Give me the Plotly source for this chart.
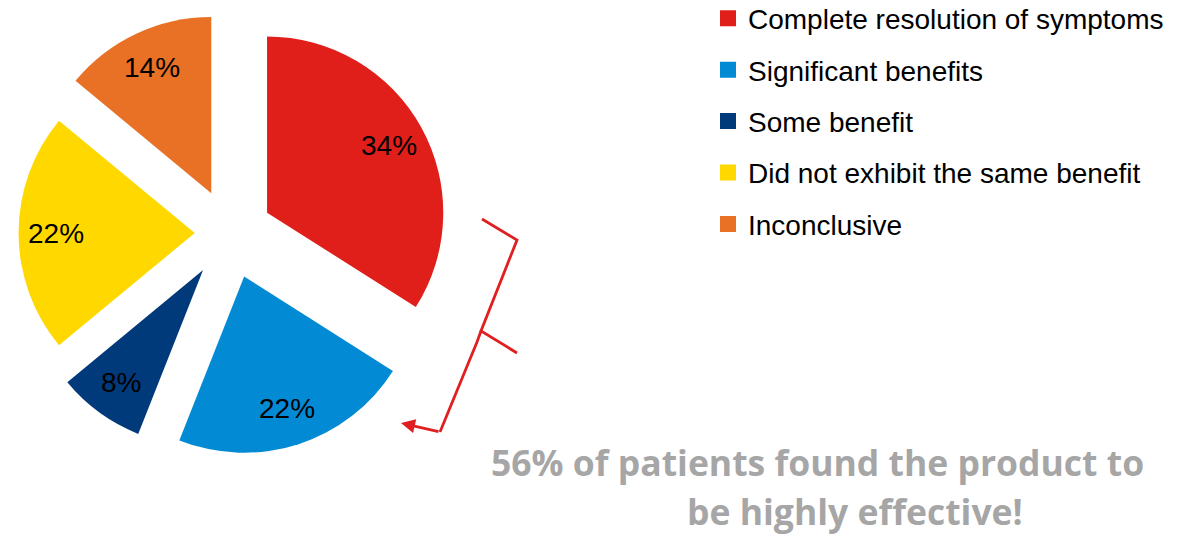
import math
import plotly.graph_objects as go

W, H = 1189, 534

labels = ["Complete resolution of symptoms", "Significant benefits", "Some benefit",
          "Did not exhibit the same benefit", "Inconclusive"]
values = [34, 22, 8, 22, 14]
colors = ["#E01F1A", "#038AD4", "#013A7B", "#FFD800", "#E87126"]
pulls = [0.24, 0.26, 0.26, 0.20, 0.25]

headline = ["56% of patients found the product to", "be highly effective!"]


def px(x):
    return x / W


def py(y):
    return 1 - y / H


# pie box (pixels)
BOX_L, BOX_R, BOX_T, BOX_B = 8, 452, 11, 455

fig = go.Figure()

fig.add_trace(go.Pie(
    labels=labels, values=values, sort=False, direction="clockwise", rotation=0,
    pull=pulls,
    marker=dict(colors=colors, line=dict(width=0)),
    textinfo="none",
    showlegend=False, hoverinfo="label+value",
    domain=dict(x=[px(BOX_L), px(BOX_R)], y=[py(BOX_B), py(BOX_T)]),
))

for i, (lab, col) in enumerate(zip(labels, colors)):
    fig.add_trace(go.Scatter(
        x=[None], y=[None], mode="markers", name=lab,
        marker=dict(symbol="square", size=16, color=col),
        legendgroup=f"g{i}", showlegend=True,
    ))

# slice labels, placed along each slice's mid-angle (same geometry as plotly's pie)
box = min(BOX_R - BOX_L, BOX_B - BOX_T)
r = box / (2 + 2 * max(pulls))
cx, cy = (BOX_L + BOX_R) / 2, (BOX_T + BOX_B) / 2
total = sum(values)
annotations = []
cum = 0
for v, p in zip(values, pulls):
    mid = math.radians((cum + v / 2) / total * 360)
    cum += v
    d = (p + 0.79) * r
    lx = cx + d * math.sin(mid)
    ly = cy - d * math.cos(mid)
    annotations.append(dict(
        x=px(lx), y=py(ly), xref="paper", yref="paper", text=f"{v}%",
        showarrow=False, xanchor="center", yanchor="middle",
        font=dict(family="Liberation Sans, Arial", size=28, color="black")))

# brace path
pts = [(482, 219), (517, 240), (481, 331), (517, 353)]
brace1 = "M " + " L ".join(f"{px(x)},{py(y)}" for x, y in pts)
pts2 = [(481, 331), (477, 342), (440, 432)]
brace2 = "M " + " L ".join(f"{px(x)},{py(y)}" for x, y in pts2)

shapes = [
    dict(type="path", path=brace1, xref="paper", yref="paper",
         line=dict(color="#E02020", width=2.8)),
    dict(type="path", path=brace2, xref="paper", yref="paper",
         line=dict(color="#E02020", width=2.8)),
]

annotations += [
    dict(x=px(401), y=py(423), xref="paper", yref="paper", text="", showarrow=True,
         ax=39, ay=9, arrowhead=2, arrowsize=1, arrowwidth=2.8, arrowcolor="#E02020"),
    dict(x=px(489), y=py(462), xref="paper", yref="paper", text=headline[0],
         showarrow=False, xanchor="left", yanchor="middle",
         font=dict(family="Open Sans", size=35.5, color="#A6A6A6", weight="bold")),
    dict(x=px(685), y=py(511), xref="paper", yref="paper", text=headline[1],
         showarrow=False, xanchor="left", yanchor="middle",
         font=dict(family="Open Sans", size=35.5, color="#A6A6A6", weight="bold")),
]

fig.update_layout(
    width=W, height=H, margin=dict(l=0, r=0, t=0, b=0, autoexpand=False),
    paper_bgcolor="white", plot_bgcolor="white",
    xaxis=dict(visible=False), yaxis=dict(visible=False),
    shapes=shapes, annotations=annotations,
    legend=dict(x=px(708), y=1.012, xanchor="left", yanchor="top",
                font=dict(family="Liberation Sans, Arial", size=28, color="black"),
                tracegroupgap=12, bgcolor="rgba(0,0,0,0)"),
)

fig.write_html("out.html", config={"displayModeBar": False},
               post_script="document.body.style.margin='0px';")
